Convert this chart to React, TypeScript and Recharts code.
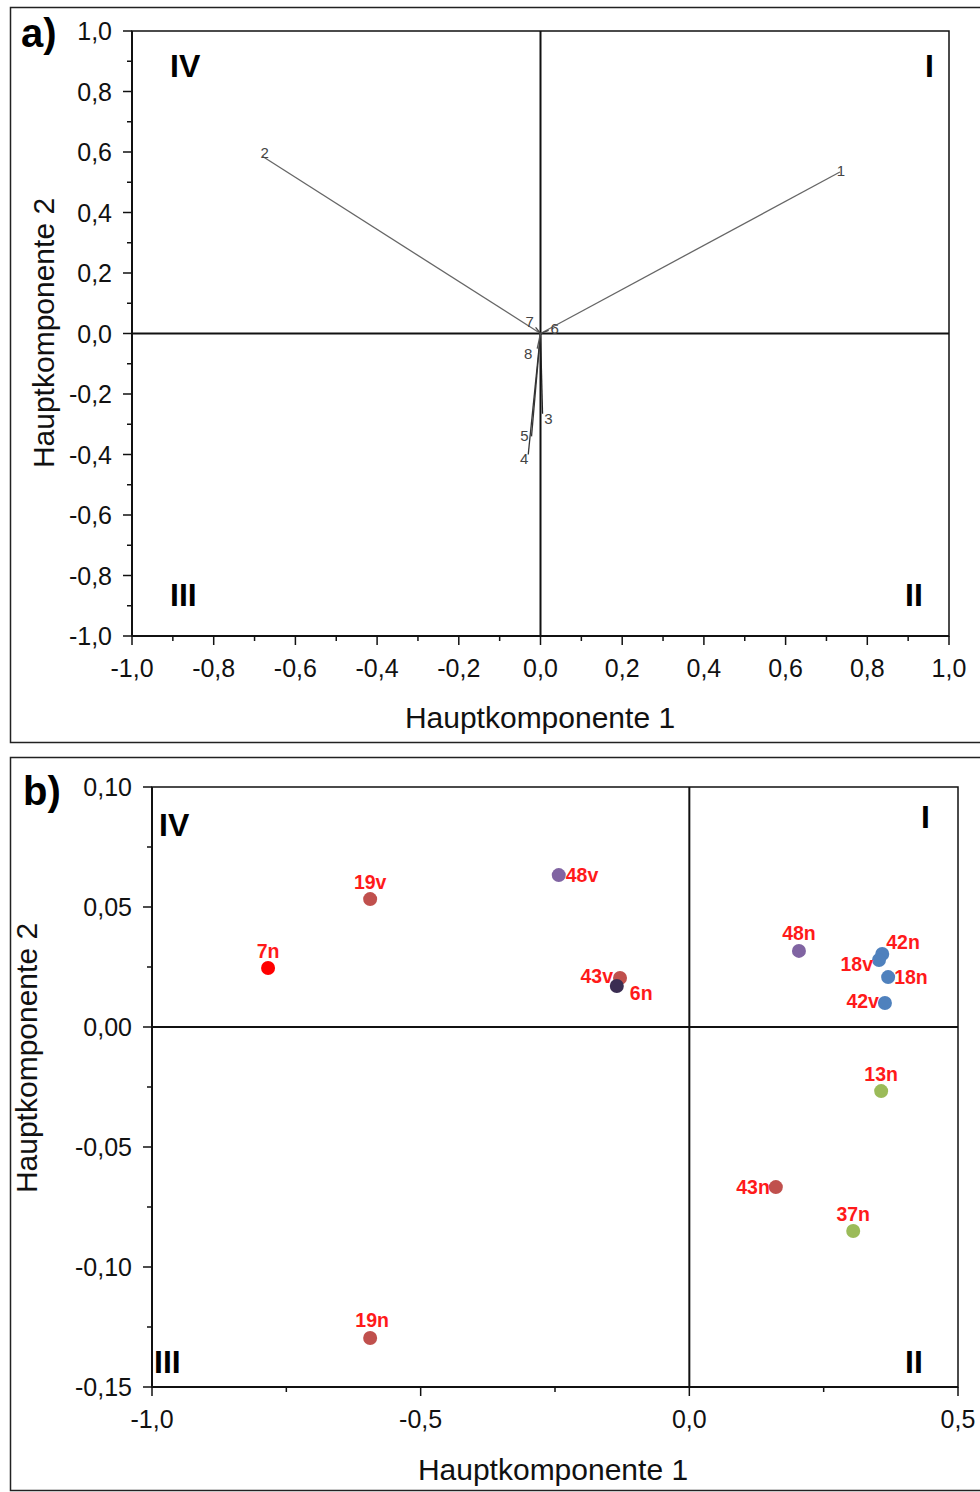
import React from 'react';
import {
  ScatterChart,
  Scatter,
  XAxis,
  YAxis,
  ReferenceLine,
  ReferenceArea,
} from 'recharts';

// a) loadings (vectors from the origin)
const loadingIds = ['1', '2', '3', '4', '5', '6', '7', '8'];
const loadingPc1 = [0.733, -0.68, 0.005, -0.03, -0.022, 0.02, -0.012, -0.008];
const loadingPc2 = [0.534, 0.585, -0.265, -0.4, -0.34, 0.01, 0.02, -0.05];

const ticksA = [
  -1.0, -0.9, -0.8, -0.7, -0.6, -0.5, -0.4, -0.3, -0.2, -0.1, 0, 0.1, 0.2, 0.3, 0.4, 0.5, 0.6,
  0.7, 0.8, 0.9, 1.0,
];

// b) scores
const sampleNames = ['7n', '19v', '48v', '43v', '6n', '48n', '42n', '18v', '18n', '42v', '13n', '43n', '37n', '19n'];
const scorePc1 = [-0.784, -0.594, -0.243, -0.129, -0.135, 0.204, 0.359, 0.353, 0.37, 0.364, 0.357, 0.161, 0.305, -0.594];
const scorePc2 = [0.0246, 0.0533, 0.0633, 0.0204, 0.0171, 0.0317, 0.0304, 0.0279, 0.0208, 0.01, -0.0267, -0.0667, -0.085, -0.1296];

const xTicksB = [-1, -0.75, -0.5, -0.25, 0, 0.25, 0.5];
const yTicksB = [-0.15, -0.125, -0.1, -0.075, -0.05, -0.025, 0, 0.025, 0.05, 0.075, 0.1];

// styling
const FONT = '"Liberation Sans", Arial, sans-serif';
const INK = '#111';

const pointColor: Record<string, string> = {
  '7n': '#ff0000',
  '19v': '#c0504d',
  '19n': '#c0504d',
  '43v': '#c0504d',
  '43n': '#c0504d',
  '48v': '#8064a2',
  '48n': '#8064a2',
  '6n': '#3a2d52',
  '42n': '#4f81bd',
  '42v': '#4f81bd',
  '18v': '#4f81bd',
  '18n': '#4f81bd',
  '13n': '#9bbb59',
  '37n': '#9bbb59',
};

// label placement: [dx, dy, anchor]
const labelPlace: Record<string, [number, number, string]> = {
  '7n': [0, -10, 'middle'],
  '19v': [0, -10, 'middle'],
  '48v': [7, 7, 'start'],
  '43v': [-7, 5, 'end'],
  '6n': [13, 14, 'start'],
  '48n': [0, -11, 'middle'],
  '42n': [4, -5, 'start'],
  '18v': [-6, 11, 'end'],
  '18n': [6, 7, 'start'],
  '42v': [-6, 5, 'end'],
  '13n': [0, -10, 'middle'],
  '43n': [-6, 7, 'end'],
  '37n': [0, -10, 'middle'],
  '19n': [2, -11, 'middle'],
};

const vecLabelOff: Record<string, [number, number]> = {
  '1': [1, 4],
  '2': [2, 1],
  '3': [6, 10],
  '4': [-4, 9],
  '5': [-7, 5],
  '6': [6, 4],
  '7': [-6, 0],
  '8': [-9, 10],
};

const vecStroke = ['#666', '#666', '#222', '#333', '#333', '#444', '#444', '#555'];

const fmt1 = (v: number) => v.toFixed(1).replace('.', ',');
const fmt2 = (v: number) => v.toFixed(2).replace('.', ',');
const isMajorA = (v: number) => Math.abs(Math.round(v * 10)) % 2 === 0;
const isMajorXB = (v: number) => Math.abs(Math.round(v * 100)) % 50 === 0;
const isMajorYB = (v: number) => Math.abs(Math.round(v * 1000)) % 50 === 0;

const AxisTick = (props: any) => {
  const { x, y, payload, side, isMajor, format } = props;
  const v = payload.value;
  const major = isMajor(v);
  const len = major ? 9 : 5;
  if (side === 'left') {
    return (
      <g>
        <line x1={x} x2={x - len} y1={y} y2={y} stroke={INK} strokeWidth={1.5} />
        {major && (
          <text x={x - 20} y={y} dy="0.36em" textAnchor="end" fontSize={25} fontFamily={FONT} fill={INK}>
            {format(v)}
          </text>
        )}
      </g>
    );
  }
  return (
    <g>
      <line x1={x} x2={x} y1={y} y2={y + len} stroke={INK} strokeWidth={1.5} />
      {major && (
        <text x={x} y={y + 41} textAnchor="middle" fontSize={25} fontFamily={FONT} fill={INK}>
          {format(v)}
        </text>
      )}
    </g>
  );
};

const Empty = () => <g />;

const LoadingPlot = () => {
  const endpoints = loadingIds.map((id, i) => ({ x: loadingPc1[i], y: loadingPc2[i], id }));
  return (
    <ScatterChart width={980} height={742} margin={{ top: 31, right: 31, left: 52, bottom: 46 }}>
      <XAxis
        type="number"
        dataKey="x"
        domain={[-1, 1]}
        ticks={ticksA}
        interval={0}
        height={60}
        tickSize={0}
        tickMargin={0}
        tickLine={false}
        axisLine={{ stroke: INK, strokeWidth: 2 }}
        tick={(p: any) => <AxisTick {...p} side="bottom" isMajor={isMajorA} format={fmt1} />}
        allowDataOverflow
      />
      <YAxis
        type="number"
        dataKey="y"
        domain={[-1, 1]}
        ticks={ticksA}
        interval={0}
        width={80}
        tickSize={0}
        tickMargin={0}
        tickLine={false}
        axisLine={{ stroke: INK, strokeWidth: 2 }}
        tick={(p: any) => <AxisTick {...p} side="left" isMajor={isMajorA} format={fmt1} />}
        allowDataOverflow
      />
      <ReferenceArea x1={-1} x2={1} y1={-1} y2={1} fill="none" fillOpacity={0} stroke={INK} strokeWidth={1.5} />
      <ReferenceLine x={0} stroke={INK} strokeWidth={2} />
      <ReferenceLine y={0} stroke={INK} strokeWidth={2} />
      {loadingIds.map((id, i) => (
        <Scatter
          key={id}
          data={[
            { x: 0, y: 0 },
            { x: loadingPc1[i], y: loadingPc2[i] },
          ]}
          line={{ stroke: vecStroke[i], strokeWidth: 1.3 }}
          shape={Empty}
          isAnimationActive={false}
        />
      ))}
      <Scatter
        data={endpoints}
        isAnimationActive={false}
        shape={(p: any) => {
          const off = vecLabelOff[p.payload.id] || [0, 0];
          return (
            <text
              x={p.cx + off[0]}
              y={p.cy + off[1]}
              textAnchor="middle"
              fontSize={15}
              fontFamily={FONT}
              fill="#444"
            >
              {p.payload.id}
            </text>
          );
        }}
      />
    </ScatterChart>
  );
};

const ScorePlot = () => {
  const points = sampleNames.map((name, i) => ({ x: scorePc1[i], y: scorePc2[i], name }));
  return (
    <ScatterChart width={980} height={735} margin={{ top: 30, right: 22, left: 72, bottom: 45 }}>
      <XAxis
        type="number"
        dataKey="x"
        domain={[-1, 0.5]}
        ticks={xTicksB}
        interval={0}
        height={60}
        tickSize={0}
        tickMargin={0}
        tickLine={false}
        axisLine={{ stroke: INK, strokeWidth: 2 }}
        tick={(p: any) => <AxisTick {...p} side="bottom" isMajor={isMajorXB} format={fmt1} />}
        allowDataOverflow
      />
      <YAxis
        type="number"
        dataKey="y"
        domain={[-0.15, 0.1]}
        ticks={yTicksB}
        interval={0}
        width={80}
        tickSize={0}
        tickMargin={0}
        tickLine={false}
        axisLine={{ stroke: INK, strokeWidth: 2 }}
        tick={(p: any) => <AxisTick {...p} side="left" isMajor={isMajorYB} format={fmt2} />}
        allowDataOverflow
      />
      <ReferenceArea x1={-1} x2={0.5} y1={-0.15} y2={0.1} fill="none" fillOpacity={0} stroke={INK} strokeWidth={1.5} />
      <ReferenceLine x={0} stroke={INK} strokeWidth={2} />
      <ReferenceLine y={0} stroke={INK} strokeWidth={2} />
      <Scatter
        data={points}
        isAnimationActive={false}
        shape={(p: any) => <circle cx={p.cx} cy={p.cy} r={7} fill={pointColor[p.payload.name]} />}
      />
      <Scatter
        data={points}
        isAnimationActive={false}
        shape={(p: any) => {
          const [dx, dy, anchor] = labelPlace[p.payload.name];
          return (
            <text
              x={p.cx + dx}
              y={p.cy + dy}
              textAnchor={anchor}
              fontSize={19.5}
              fontWeight="bold"
              fontFamily={FONT}
              fill="#ff1a1a"
            >
              {p.payload.name}
            </text>
          );
        }}
      />
    </ScatterChart>
  );
};

const bold = { fontFamily: FONT, fontWeight: 'bold' as const, fill: '#000' };
const title = { fontFamily: FONT, fontSize: 30, fill: INK };

export default function App() {
  return (
    <div style={{ position: 'absolute', left: 0, top: 0, width: 980, height: 1492, background: '#fff', overflow: 'hidden' }}>
      <div style={{ position: 'absolute', left: 0, top: 0 }}>
        <LoadingPlot />
      </div>
      <div style={{ position: 'absolute', left: 0, top: 757 }}>
        <ScorePlot />
      </div>
      <svg width={980} height={1492} style={{ position: 'absolute', left: 0, top: 0, pointerEvents: 'none' }}>
        <rect x={10.5} y={7.5} width={990} height={735} fill="none" stroke="#222" strokeWidth={1.5} />
        <rect x={10.5} y={757.5} width={990} height={733} fill="none" stroke="#222" strokeWidth={1.5} />

        <text x={21} y={47} fontSize={40} {...bold}>a)</text>
        <text x={170} y={77} fontSize={32} {...bold}>IV</text>
        <text x={925} y={77} fontSize={32} {...bold}>I</text>
        <text x={170} y={606} fontSize={32} {...bold}>III</text>
        <text x={905} y={606} fontSize={32} {...bold}>II</text>
        <text x={540} y={728} textAnchor="middle" {...title}>Hauptkomponente 1</text>
        <text x={54} y={333} textAnchor="middle" transform="rotate(-90 54 333)" {...title}>Hauptkomponente 2</text>

        <text x={23} y={805} fontSize={40} {...bold}>b)</text>
        <text x={159} y={836} fontSize={32} {...bold}>IV</text>
        <text x={921} y={828} fontSize={32} {...bold}>I</text>
        <text x={154} y={1373} fontSize={32} {...bold}>III</text>
        <text x={905} y={1373} fontSize={32} {...bold}>II</text>
        <text x={553} y={1480} textAnchor="middle" {...title}>Hauptkomponente 1</text>
        <text x={37} y={1058} textAnchor="middle" transform="rotate(-90 37 1058)" {...title}>Hauptkomponente 2</text>
      </svg>
    </div>
  );
}
